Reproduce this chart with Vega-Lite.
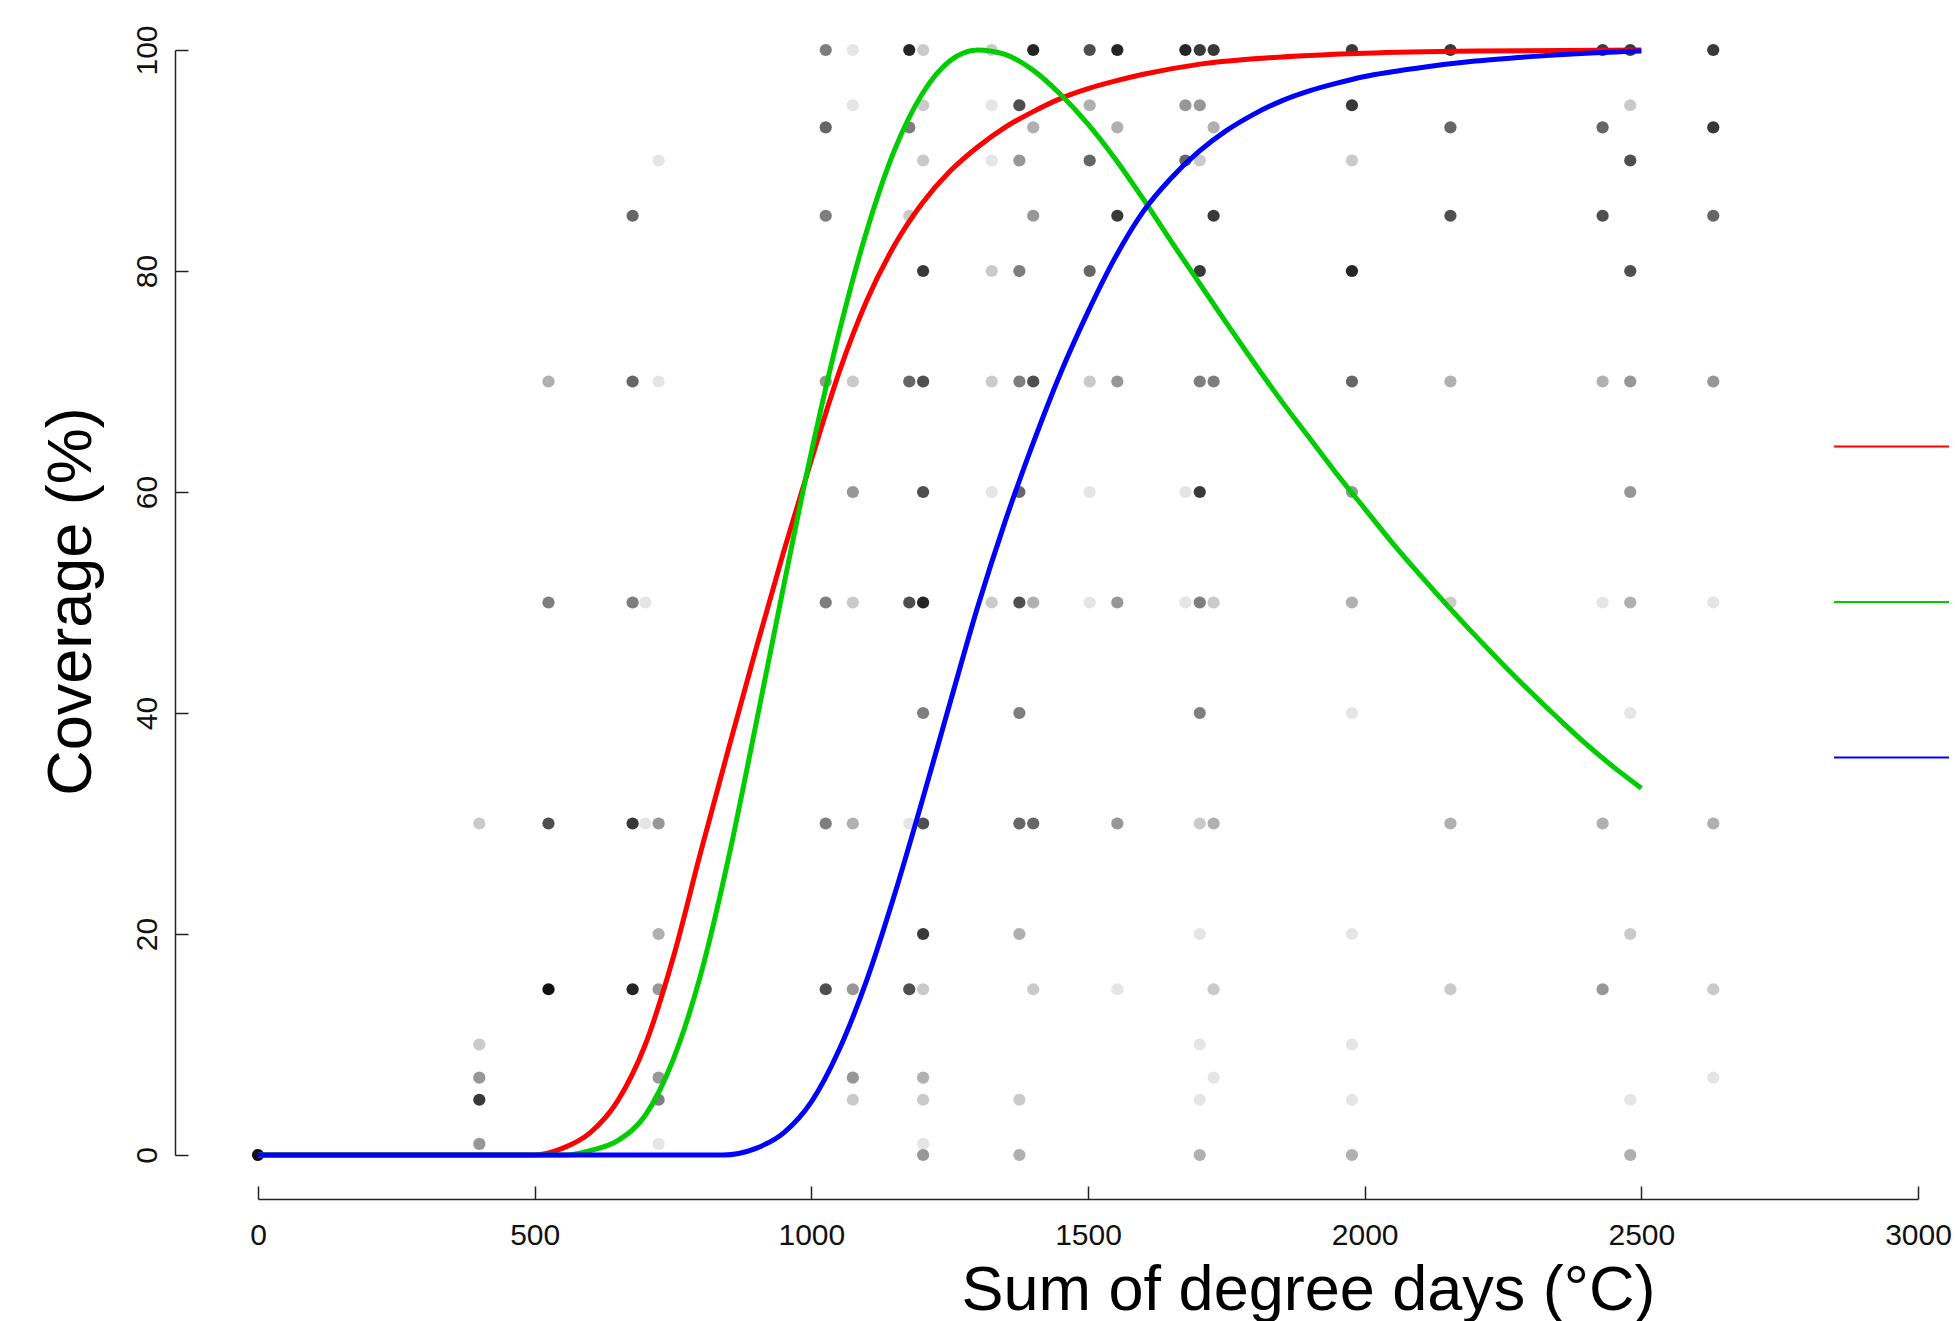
{
  "$schema": "https://vega.github.io/schema/vega-lite/v6.json",
  "width": 1660,
  "height": 1105,
  "autosize": {"type": "none"},
  "padding": {"left": 258, "top": 50, "right": 37, "bottom": 166},
  "background": "white",
  "config": {"view": {"stroke": null}, "font": "Liberation Sans"},
  "datasets": {
    "obs": [
      {"gdd":0,"coverage":0,"n_obs":10},
      {"gdd":400,"coverage":30,"n_obs":2},{"gdd":400,"coverage":10,"n_obs":2},{"gdd":400,"coverage":7,"n_obs":4},{"gdd":400,"coverage":5,"n_obs":8},{"gdd":400,"coverage":1,"n_obs":4},
      {"gdd":525,"coverage":70,"n_obs":3},{"gdd":525,"coverage":50,"n_obs":5},{"gdd":525,"coverage":30,"n_obs":7},{"gdd":525,"coverage":15,"n_obs":10},
      {"gdd":677,"coverage":85,"n_obs":6},{"gdd":677,"coverage":70,"n_obs":6},{"gdd":677,"coverage":50,"n_obs":5},{"gdd":677,"coverage":30,"n_obs":8},{"gdd":677,"coverage":15,"n_obs":9},
      {"gdd":700,"coverage":50,"n_obs":1},{"gdd":700,"coverage":30,"n_obs":1},
      {"gdd":724,"coverage":90,"n_obs":1},{"gdd":724,"coverage":70,"n_obs":1},{"gdd":724,"coverage":30,"n_obs":4},{"gdd":724,"coverage":20,"n_obs":3},{"gdd":724,"coverage":15,"n_obs":4},{"gdd":724,"coverage":7,"n_obs":4},{"gdd":724,"coverage":5,"n_obs":5},{"gdd":724,"coverage":1,"n_obs":1},
      {"gdd":1026,"coverage":100,"n_obs":5},{"gdd":1026,"coverage":93,"n_obs":6},{"gdd":1026,"coverage":85,"n_obs":5},{"gdd":1026,"coverage":70,"n_obs":4},{"gdd":1026,"coverage":50,"n_obs":5},{"gdd":1026,"coverage":30,"n_obs":5},{"gdd":1026,"coverage":15,"n_obs":7},
      {"gdd":1075,"coverage":100,"n_obs":1},{"gdd":1075,"coverage":95,"n_obs":1},{"gdd":1075,"coverage":70,"n_obs":2},{"gdd":1075,"coverage":60,"n_obs":4},{"gdd":1075,"coverage":50,"n_obs":2},{"gdd":1075,"coverage":30,"n_obs":3},{"gdd":1075,"coverage":15,"n_obs":4},{"gdd":1075,"coverage":7,"n_obs":4},{"gdd":1075,"coverage":5,"n_obs":2},
      {"gdd":1177,"coverage":100,"n_obs":9},{"gdd":1177,"coverage":93,"n_obs":5},{"gdd":1177,"coverage":85,"n_obs":2},{"gdd":1177,"coverage":70,"n_obs":6},{"gdd":1177,"coverage":50,"n_obs":7},{"gdd":1177,"coverage":30,"n_obs":1},{"gdd":1177,"coverage":15,"n_obs":7},
      {"gdd":1202,"coverage":100,"n_obs":2},{"gdd":1202,"coverage":95,"n_obs":2},{"gdd":1202,"coverage":90,"n_obs":2},{"gdd":1202,"coverage":80,"n_obs":8},{"gdd":1202,"coverage":70,"n_obs":7},{"gdd":1202,"coverage":60,"n_obs":7},{"gdd":1202,"coverage":50,"n_obs":9},{"gdd":1202,"coverage":40,"n_obs":5},{"gdd":1202,"coverage":30,"n_obs":7},{"gdd":1202,"coverage":20,"n_obs":8},{"gdd":1202,"coverage":15,"n_obs":2},{"gdd":1202,"coverage":7,"n_obs":3},{"gdd":1202,"coverage":5,"n_obs":2},{"gdd":1202,"coverage":1,"n_obs":1},{"gdd":1202,"coverage":0,"n_obs":4},
      {"gdd":1326,"coverage":100,"n_obs":2},{"gdd":1326,"coverage":95,"n_obs":1},{"gdd":1326,"coverage":90,"n_obs":1},{"gdd":1326,"coverage":80,"n_obs":2},{"gdd":1326,"coverage":70,"n_obs":2},{"gdd":1326,"coverage":60,"n_obs":1},{"gdd":1326,"coverage":50,"n_obs":2},
      {"gdd":1376,"coverage":95,"n_obs":7},{"gdd":1376,"coverage":90,"n_obs":4},{"gdd":1376,"coverage":80,"n_obs":5},{"gdd":1376,"coverage":70,"n_obs":5},{"gdd":1376,"coverage":60,"n_obs":6},{"gdd":1376,"coverage":50,"n_obs":7},{"gdd":1376,"coverage":40,"n_obs":5},{"gdd":1376,"coverage":30,"n_obs":6},{"gdd":1376,"coverage":20,"n_obs":3},{"gdd":1376,"coverage":5,"n_obs":2},{"gdd":1376,"coverage":0,"n_obs":3},
      {"gdd":1401,"coverage":100,"n_obs":9},{"gdd":1401,"coverage":93,"n_obs":3},{"gdd":1401,"coverage":85,"n_obs":4},{"gdd":1401,"coverage":70,"n_obs":7},{"gdd":1401,"coverage":50,"n_obs":3},{"gdd":1401,"coverage":30,"n_obs":6},{"gdd":1401,"coverage":15,"n_obs":2},
      {"gdd":1503,"coverage":100,"n_obs":7},{"gdd":1503,"coverage":95,"n_obs":3},{"gdd":1503,"coverage":90,"n_obs":6},{"gdd":1503,"coverage":80,"n_obs":6},{"gdd":1503,"coverage":70,"n_obs":2},{"gdd":1503,"coverage":60,"n_obs":1},{"gdd":1503,"coverage":50,"n_obs":1},
      {"gdd":1553,"coverage":100,"n_obs":9},{"gdd":1553,"coverage":93,"n_obs":3},{"gdd":1553,"coverage":85,"n_obs":8},{"gdd":1553,"coverage":70,"n_obs":4},{"gdd":1553,"coverage":50,"n_obs":4},{"gdd":1553,"coverage":30,"n_obs":4},{"gdd":1553,"coverage":15,"n_obs":1},
      {"gdd":1676,"coverage":100,"n_obs":9},{"gdd":1676,"coverage":95,"n_obs":4},{"gdd":1676,"coverage":90,"n_obs":6},{"gdd":1676,"coverage":60,"n_obs":1},{"gdd":1676,"coverage":50,"n_obs":1},
      {"gdd":1702,"coverage":100,"n_obs":8},{"gdd":1702,"coverage":95,"n_obs":4},{"gdd":1702,"coverage":90,"n_obs":2},{"gdd":1702,"coverage":80,"n_obs":8},{"gdd":1702,"coverage":70,"n_obs":5},{"gdd":1702,"coverage":60,"n_obs":8},{"gdd":1702,"coverage":50,"n_obs":5},{"gdd":1702,"coverage":40,"n_obs":5},{"gdd":1702,"coverage":30,"n_obs":2},{"gdd":1702,"coverage":20,"n_obs":1},{"gdd":1702,"coverage":10,"n_obs":1},{"gdd":1702,"coverage":5,"n_obs":1},{"gdd":1702,"coverage":0,"n_obs":3},
      {"gdd":1727,"coverage":100,"n_obs":8},{"gdd":1727,"coverage":93,"n_obs":3},{"gdd":1727,"coverage":85,"n_obs":8},{"gdd":1727,"coverage":70,"n_obs":5},{"gdd":1727,"coverage":50,"n_obs":2},{"gdd":1727,"coverage":30,"n_obs":3},{"gdd":1727,"coverage":15,"n_obs":2},{"gdd":1727,"coverage":7,"n_obs":1},
      {"gdd":1977,"coverage":100,"n_obs":8},{"gdd":1977,"coverage":95,"n_obs":8},{"gdd":1977,"coverage":90,"n_obs":2},{"gdd":1977,"coverage":80,"n_obs":9},{"gdd":1977,"coverage":70,"n_obs":6},{"gdd":1977,"coverage":60,"n_obs":4},{"gdd":1977,"coverage":50,"n_obs":3},{"gdd":1977,"coverage":40,"n_obs":1},{"gdd":1977,"coverage":20,"n_obs":1},{"gdd":1977,"coverage":10,"n_obs":1},{"gdd":1977,"coverage":5,"n_obs":1},{"gdd":1977,"coverage":0,"n_obs":3},
      {"gdd":2155,"coverage":100,"n_obs":8},{"gdd":2155,"coverage":93,"n_obs":6},{"gdd":2155,"coverage":85,"n_obs":7},{"gdd":2155,"coverage":70,"n_obs":3},{"gdd":2155,"coverage":50,"n_obs":2},{"gdd":2155,"coverage":30,"n_obs":3},{"gdd":2155,"coverage":15,"n_obs":2},
      {"gdd":2430,"coverage":100,"n_obs":8},{"gdd":2430,"coverage":93,"n_obs":6},{"gdd":2430,"coverage":85,"n_obs":7},{"gdd":2430,"coverage":70,"n_obs":3},{"gdd":2430,"coverage":50,"n_obs":1},{"gdd":2430,"coverage":30,"n_obs":3},{"gdd":2430,"coverage":15,"n_obs":4},
      {"gdd":2480,"coverage":100,"n_obs":8},{"gdd":2480,"coverage":95,"n_obs":2},{"gdd":2480,"coverage":90,"n_obs":7},{"gdd":2480,"coverage":80,"n_obs":7},{"gdd":2480,"coverage":70,"n_obs":4},{"gdd":2480,"coverage":60,"n_obs":4},{"gdd":2480,"coverage":50,"n_obs":3},{"gdd":2480,"coverage":40,"n_obs":1},{"gdd":2480,"coverage":20,"n_obs":2},{"gdd":2480,"coverage":5,"n_obs":1},{"gdd":2480,"coverage":0,"n_obs":3},
      {"gdd":2630,"coverage":100,"n_obs":8},{"gdd":2630,"coverage":93,"n_obs":8},{"gdd":2630,"coverage":85,"n_obs":6},{"gdd":2630,"coverage":70,"n_obs":4},{"gdd":2630,"coverage":50,"n_obs":1},{"gdd":2630,"coverage":30,"n_obs":3},{"gdd":2630,"coverage":15,"n_obs":2},{"gdd":2630,"coverage":7,"n_obs":1}
    ],
    "curves": [
      {"model":"Model 1","gdd":0,"coverage":0},{"model":"Model 1","gdd":500,"coverage":0},{"model":"Model 1","gdd":550,"coverage":0.6},{"model":"Model 1","gdd":600,"coverage":2.0},{"model":"Model 1","gdd":650,"coverage":4.9},{"model":"Model 1","gdd":700,"coverage":10.0},{"model":"Model 1","gdd":750,"coverage":17.8},{"model":"Model 1","gdd":800,"coverage":27.4},{"model":"Model 1","gdd":850,"coverage":36.7},{"model":"Model 1","gdd":900,"coverage":45.8},{"model":"Model 1","gdd":950,"coverage":54.6},{"model":"Model 1","gdd":1000,"coverage":62.9},{"model":"Model 1","gdd":1050,"coverage":70.8},{"model":"Model 1","gdd":1100,"coverage":77.3},{"model":"Model 1","gdd":1150,"coverage":82.3},{"model":"Model 1","gdd":1200,"coverage":86.1},{"model":"Model 1","gdd":1250,"coverage":89},{"model":"Model 1","gdd":1300,"coverage":91.2},{"model":"Model 1","gdd":1350,"coverage":93},{"model":"Model 1","gdd":1400,"coverage":94.4},{"model":"Model 1","gdd":1450,"coverage":95.6},{"model":"Model 1","gdd":1500,"coverage":96.5},{"model":"Model 1","gdd":1550,"coverage":97.2},{"model":"Model 1","gdd":1600,"coverage":97.8},{"model":"Model 1","gdd":1700,"coverage":98.7},{"model":"Model 1","gdd":1800,"coverage":99.2},{"model":"Model 1","gdd":1900,"coverage":99.5},{"model":"Model 1","gdd":2000,"coverage":99.7},{"model":"Model 1","gdd":2200,"coverage":99.9},{"model":"Model 1","gdd":2500,"coverage":100},
      {"model":"Model 2","gdd":0,"coverage":0},{"model":"Model 2","gdd":560,"coverage":0},{"model":"Model 2","gdd":600,"coverage":0.4},{"model":"Model 2","gdd":650,"coverage":1.3},{"model":"Model 2","gdd":700,"coverage":3.6},{"model":"Model 2","gdd":750,"coverage":8.6},{"model":"Model 2","gdd":800,"coverage":16.3},{"model":"Model 2","gdd":850,"coverage":26.8},{"model":"Model 2","gdd":900,"coverage":39},{"model":"Model 2","gdd":950,"coverage":51.5},{"model":"Model 2","gdd":1000,"coverage":63.6},{"model":"Model 2","gdd":1050,"coverage":74.4},{"model":"Model 2","gdd":1100,"coverage":83.6},{"model":"Model 2","gdd":1150,"coverage":90.9},{"model":"Model 2","gdd":1200,"coverage":96},{"model":"Model 2","gdd":1250,"coverage":99},{"model":"Model 2","gdd":1300,"coverage":100},{"model":"Model 2","gdd":1350,"coverage":99.6},{"model":"Model 2","gdd":1400,"coverage":98.2},{"model":"Model 2","gdd":1450,"coverage":96},{"model":"Model 2","gdd":1500,"coverage":93.3},{"model":"Model 2","gdd":1550,"coverage":90.1},{"model":"Model 2","gdd":1600,"coverage":86.5},{"model":"Model 2","gdd":1650,"coverage":82.7},{"model":"Model 2","gdd":1700,"coverage":79},{"model":"Model 2","gdd":1750,"coverage":75.3},{"model":"Model 2","gdd":1800,"coverage":71.7},{"model":"Model 2","gdd":1850,"coverage":68.2},{"model":"Model 2","gdd":1900,"coverage":64.9},{"model":"Model 2","gdd":1950,"coverage":61.6},{"model":"Model 2","gdd":2000,"coverage":58.5},{"model":"Model 2","gdd":2050,"coverage":55.4},{"model":"Model 2","gdd":2100,"coverage":52.5},{"model":"Model 2","gdd":2150,"coverage":49.7},{"model":"Model 2","gdd":2200,"coverage":47},{"model":"Model 2","gdd":2250,"coverage":44.4},{"model":"Model 2","gdd":2300,"coverage":41.9},{"model":"Model 2","gdd":2350,"coverage":39.5},{"model":"Model 2","gdd":2400,"coverage":37.2},{"model":"Model 2","gdd":2450,"coverage":35.1},{"model":"Model 2","gdd":2500,"coverage":33.2},
      {"model":"Model 3","gdd":0,"coverage":0},{"model":"Model 3","gdd":840,"coverage":0},{"model":"Model 3","gdd":900,"coverage":0.6},{"model":"Model 3","gdd":950,"coverage":2},{"model":"Model 3","gdd":1000,"coverage":4.8},{"model":"Model 3","gdd":1050,"coverage":9.5},{"model":"Model 3","gdd":1100,"coverage":15.8},{"model":"Model 3","gdd":1150,"coverage":23.5},{"model":"Model 3","gdd":1200,"coverage":32},{"model":"Model 3","gdd":1250,"coverage":40.8},{"model":"Model 3","gdd":1300,"coverage":49.5},{"model":"Model 3","gdd":1350,"coverage":57.3},{"model":"Model 3","gdd":1400,"coverage":64.3},{"model":"Model 3","gdd":1450,"coverage":70.7},{"model":"Model 3","gdd":1500,"coverage":76.3},{"model":"Model 3","gdd":1550,"coverage":81.3},{"model":"Model 3","gdd":1600,"coverage":85.4},{"model":"Model 3","gdd":1650,"coverage":88.4},{"model":"Model 3","gdd":1700,"coverage":90.8},{"model":"Model 3","gdd":1750,"coverage":92.7},{"model":"Model 3","gdd":1800,"coverage":94.2},{"model":"Model 3","gdd":1850,"coverage":95.4},{"model":"Model 3","gdd":1900,"coverage":96.3},{"model":"Model 3","gdd":1950,"coverage":97},{"model":"Model 3","gdd":2000,"coverage":97.6},{"model":"Model 3","gdd":2100,"coverage":98.4},{"model":"Model 3","gdd":2200,"coverage":99},{"model":"Model 3","gdd":2300,"coverage":99.4},{"model":"Model 3","gdd":2400,"coverage":99.7},{"model":"Model 3","gdd":2500,"coverage":99.9}
    ]
  },
  "encoding": {
    "x": {
      "field": "gdd", "type": "quantitative",
      "scale": {"domain": [0, 3000], "nice": false, "zero": false},
      "axis": {
        "values": [0, 500, 1000, 1500, 2000, 2500, 3000], "format": "d",
        "offset": 44, "tickSize": -13, "labelPadding": 34,
        "labelFontSize": 30, "labelColor": "#111111", "labelFlush": false, "labelOverlap": false,
        "labelBaseline": "top",
        "domainColor": "#222222", "tickColor": "#222222", "domainWidth": 1.5, "tickWidth": 1.5,
        "grid": false,
        "title": "Sum of degree days (°C)", "titleFontSize": 63, "titleFontWeight": "normal",
        "titleColor": "#000000", "titleX": 1050, "titleY": 110, "titleBaseline": "alphabetic", "titleAlign": "center"
      }
    },
    "y": {
      "field": "coverage", "type": "quantitative",
      "scale": {"domain": [0, 100], "nice": false, "zero": false},
      "axis": {
        "values": [0, 20, 40, 60, 80, 100],
        "offset": 83, "tickSize": -13, "labelPadding": 32,
        "labelFontSize": 30, "labelColor": "#111111", "labelAngle": 270,
        "labelAlign": "center", "labelBaseline": "alphabetic", "labelFlush": false, "labelOverlap": false,
        "domainColor": "#222222", "tickColor": "#222222", "domainWidth": 1.5, "tickWidth": 1.5,
        "grid": false,
        "title": "Coverage (%)", "titleFontSize": 63, "titleFontWeight": "normal",
        "titleColor": "#000000", "titleAngle": 270, "titleX": -85, "titleY": 551,
        "titleBaseline": "alphabetic", "titleAlign": "center"
      }
    }
  },
  "layer": [
    {
      "data": {"name": "obs"},
      "mark": {"type": "circle", "size": 150, "opacity": 1},
      "encoding": {
        "color": {
          "field": "n_obs", "type": "quantitative",
          "scale": {"domain": [1, 10], "range": ["#e5e5e5", "#111111"]},
          "legend": null
        }
      }
    },
    {
      "data": {"name": "curves"},
      "mark": {"type": "line", "strokeWidth": 5, "interpolate": "monotone"},
      "encoding": {
        "color": {
          "field": "model", "type": "nominal",
          "scale": {"domain": ["Model 1", "Model 2", "Model 3"], "range": ["#ff0000", "#00cd00", "#0000ff"]},
          "legend": {
            "orient": "none", "legendX": 1575, "legendY": 338, "title": null,
            "symbolType": "stroke", "symbolSize": 13225, "symbolStrokeWidth": 2,
            "rowPadding": 91.5, "labelExpr": "''", "padding": 0, "offset": 0
          }
        }
      }
    }
  ],
  "resolve": {"scale": {"color": "independent"}}
}
